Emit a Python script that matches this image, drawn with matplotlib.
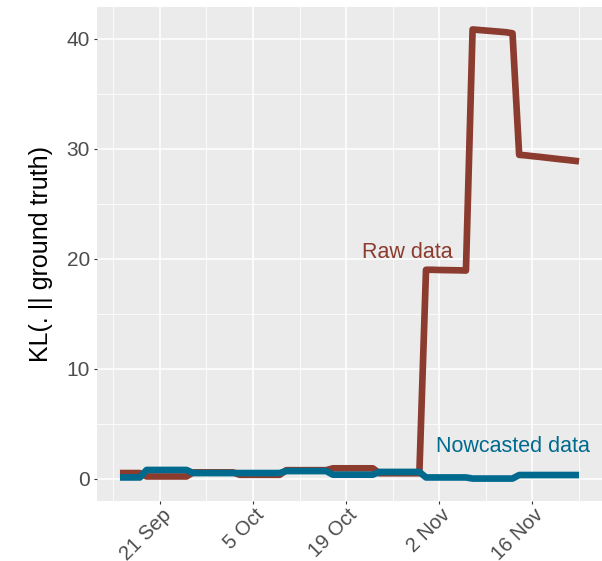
import numpy as np
import pandas as pd
import matplotlib
matplotlib.use("Agg")
import matplotlib.pyplot as plt
import matplotlib.dates as mdates
import matplotlib.transforms as mtransforms
from matplotlib.ticker import MultipleLocator

plt.rcParams['font.family'] = ['Liberation Sans', 'DejaVu Sans']

start_date = "2020-09-15"
n_days = 70

raw_kl = [
    0.52, 0.52, 0.52, 0.52,
    0.21, 0.21, 0.21, 0.21, 0.21, 0.21, 0.21,
    0.58, 0.58, 0.58, 0.58, 0.58, 0.58, 0.58,
    0.36, 0.36, 0.36, 0.36, 0.36, 0.36, 0.36,
    0.78, 0.78, 0.78, 0.78, 0.78, 0.78, 0.78,
    0.95, 0.95, 0.95, 0.95, 0.95, 0.95, 0.95,
    0.50, 0.50, 0.50, 0.50, 0.50, 0.50, 0.50,
    19.0, 19.0, 18.98, 18.97, 18.96, 18.95, 18.93,
    40.85, 40.8, 40.75, 40.7, 40.65, 40.6, 40.5,
    29.45, 29.4, 29.33, 29.27, 29.2, 29.13, 29.06, 29.0, 28.93, 28.86,
]

nowcast_kl = [
    0.12, 0.12, 0.12, 0.12,
    0.80, 0.80, 0.80, 0.80, 0.80, 0.80, 0.80,
    0.52, 0.52, 0.52, 0.52, 0.52, 0.52, 0.52,
    0.52, 0.52, 0.52, 0.52, 0.52, 0.52, 0.52,
    0.70, 0.70, 0.70, 0.70, 0.70, 0.70, 0.70,
    0.37, 0.37, 0.37, 0.37, 0.37, 0.37, 0.37,
    0.62, 0.62, 0.62, 0.62, 0.62, 0.62, 0.62,
    0.12, 0.12, 0.12, 0.12, 0.12, 0.12, 0.12,
    0.02, 0.02, 0.02, 0.02, 0.02, 0.02, 0.02,
    0.34, 0.34, 0.34, 0.34, 0.34, 0.34, 0.34, 0.34, 0.34, 0.34,
]

dates = pd.date_range(start_date, periods=n_days, freq="D")

raw_color = "#8C3B2F"
now_color = "#006A8E"

fig = plt.figure(figsize=(6.02, 5.61), dpi=100)
ax = fig.add_axes([97/602, 1 - 501/561, (602-97)/602, (501-7)/561])
ax.set_facecolor("#EBEBEB")
for s in ax.spines.values():
    s.set_visible(False)

ax.plot(dates, raw_kl, color=raw_color, lw=4.8, solid_capstyle='butt', solid_joinstyle='round', zorder=3)
ax.plot(dates, nowcast_kl, color=now_color, lw=4.8, solid_capstyle='butt', solid_joinstyle='round', zorder=4)

d0 = mdates.date2num(dates[0]); d1 = mdates.date2num(dates[-1])
pad = (d1 - d0) * 0.05
ax.set_xlim(d0 - pad, d1 + pad)
ymax = max(raw_kl)
ymin = min(min(raw_kl), min(nowcast_kl))
ypad = (ymax - ymin) * 0.05
ax.set_ylim(ymin - ypad, ymax + ypad)

major = pd.to_datetime(["2020-09-21", "2020-10-05", "2020-10-19", "2020-11-02", "2020-11-16"])
minor = pd.to_datetime(["2020-09-14", "2020-09-28", "2020-10-12", "2020-10-26", "2020-11-09", "2020-11-23"])
ax.set_xticks(mdates.date2num(major))
ax.set_xticks(mdates.date2num(minor), minor=True)
ax.set_xticklabels(["21 Sep", "5 Oct", "19 Oct", "2 Nov", "16 Nov"], rotation=45, ha='right', va='top', rotation_mode='anchor', fontsize=14.5)
ax.yaxis.set_major_locator(MultipleLocator(10))
ax.yaxis.set_minor_locator(MultipleLocator(5))

ax.grid(True, which='major', color='white', lw=1.1, zorder=0)
ax.grid(True, which='minor', color='white', lw=0.55, zorder=0)
ax.set_axisbelow(True)

ax.tick_params(which='major', length=2.5, width=0.8, color='#333333', labelcolor='#4D4D4D')
ax.tick_params(axis='y', pad=2.5, labelsize=15)
ax.tick_params(axis='x', pad=0.5)
ax.tick_params(which='minor', length=0)

offset = mtransforms.ScaledTranslation(1.5/100, 0, fig.dpi_scale_trans)
for lbl in ax.get_xticklabels():
    lbl.set_transform(lbl.get_transform() + offset)

ax.set_ylabel("KL(. || ground truth)", fontsize=18, color='black', labelpad=10)

ax.text(mdates.date2num(pd.Timestamp("2020-10-28 04:00")), 20.6, "Raw data", color=raw_color, fontsize=15.5, ha='center', va='center')
ax.text(mdates.date2num(pd.Timestamp("2020-11-13")), 2.9, "Nowcasted data", color=now_color, fontsize=15.5, ha='center', va='center')

fig.savefig("out.png", dpi=100)
